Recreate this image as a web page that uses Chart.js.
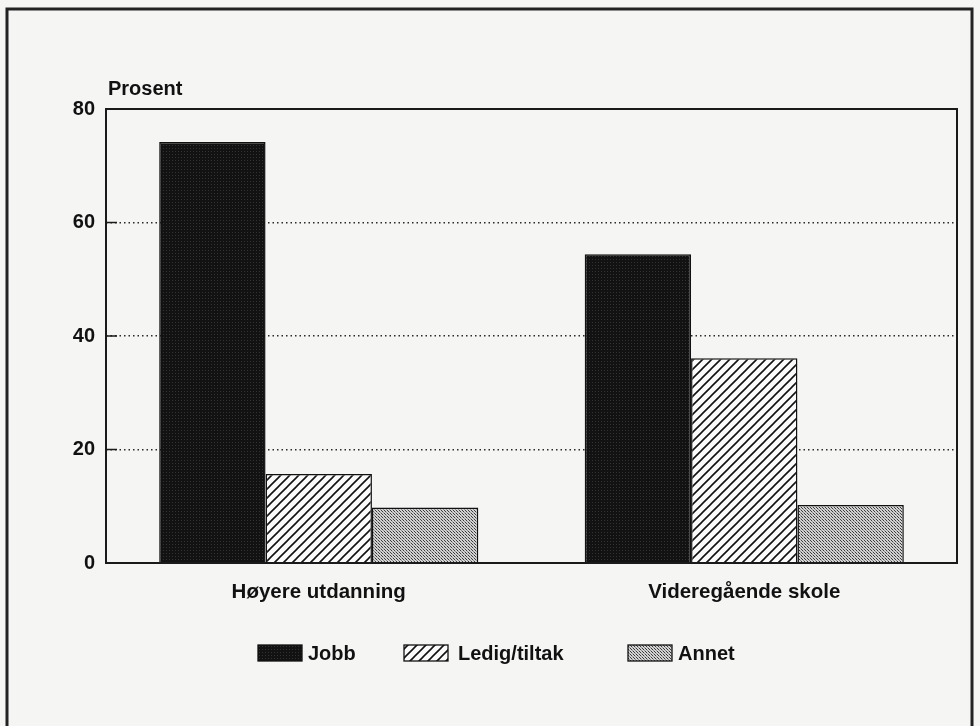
<!DOCTYPE html>
<html>
<head>
<meta charset="utf-8">
<script src="https://cdn.jsdelivr.net/npm/chart.js@4.4.0/dist/chart.umd.min.js"></script>
<style>
    html, body { margin: 0; padding: 0; background: #f5f5f4; }
    #wrap { position: relative; width: 980px; height: 726px; }
</style>
</head>
<body>
<div id="wrap"><canvas id="chart" width="980" height="726"></canvas></div>
<script>
// data
const categories = ['Høyere utdanning', 'Videregående skole'];
const jobb = [74.2, 54.4];
const ledig = [15.7, 36.1];
const annet = [9.8, 10.2];
const seriesNames = ['Jobb', 'Ledig/tiltak', 'Annet'];
const yTicks = [0, 20, 40, 60, 80];

const FONT = '"Liberation Sans", Arial, Helvetica, sans-serif';

const canvas = document.getElementById('chart');
const ctx = canvas.getContext('2d');

// little tiles used as fill patterns (scanned print look)
function makePattern(size, draw){
    const tile = document.createElement('canvas');
    tile.width = size;
    tile.height = size;
    draw(tile.getContext('2d'), size);
    return ctx.createPattern(tile, 'repeat');
}

const darkFill = makePattern(3, function(g, s){
    g.fillStyle = '#121212';
    g.fillRect(0, 0, s, s);
    g.fillStyle = '#333';
    g.fillRect(1, 1, 1, 1);
});

const hatchFill = makePattern(9, function(g, s){
    g.fillStyle = '#fbfbfb';
    g.fillRect(0, 0, s, s);
    g.strokeStyle = '#111';
    g.lineWidth = 1.6;
    g.beginPath();
    g.moveTo(0, s); g.lineTo(s, 0);
    g.moveTo(-2, 2); g.lineTo(2, -2);
    g.moveTo(s - 2, s + 2); g.lineTo(s + 2, s - 2);
    g.stroke();
});

const dotFill = makePattern(3, function(g, s){
    g.fillStyle = '#d2d2d2';
    g.fillRect(0, 0, s, s);
    g.fillStyle = '#3a3a3a';
    g.fillRect(0, 0, 1, 1);
    g.fillRect(1, 1, 1, 1);
    g.fillStyle = '#8a8a8a';
    g.fillRect(2, 2, 1, 1);
});

const fills = [darkFill, hatchFill, dotFill];

// frame, y title and legend are drawn by hand
const decorations = {
    id: 'decorations',
    beforeDraw(chart){
        const c = chart.ctx;
        c.save();
        c.strokeStyle = '#222';
        c.lineWidth = 3;
        c.strokeRect(7, 9, 965, 740);
        c.restore();
    },
    afterDatasetsDraw(chart){
        const c = chart.ctx;
        const a = chart.chartArea;
        c.save();
        c.strokeStyle = '#1a1a1a';
        c.lineWidth = 2;
        c.strokeRect(a.left, a.top, a.right - a.left, a.bottom - a.top);

        // small inward ticks on the y axis
        const y = chart.scales.y;
        c.lineWidth = 1.5;
        yTicks.slice(1, -1).forEach(function(v){
            const py = y.getPixelForValue(v);
            c.beginPath();
            c.moveTo(a.left, py);
            c.lineTo(a.left + 11, py);
            c.stroke();
        });

        c.fillStyle = '#111';
        c.font = 'bold 20px ' + FONT;
        c.textAlign = 'left';
        c.textBaseline = 'alphabetic';
        c.fillText('Prosent', 108, 95);

        // legend
        const items = [[258, 308], [404, 458], [628, 678]];
        chart.data.datasets.forEach(function(ds, i){
            const bx = items[i][0];
            c.fillStyle = ds.backgroundColor;
            c.fillRect(bx, 645, 44, 16);
            c.strokeStyle = '#111';
            c.lineWidth = 1.3;
            c.strokeRect(bx, 645, 44, 16);
            c.fillStyle = '#111';
            c.textBaseline = 'middle';
            c.fillText(ds.label, items[i][1], 654);
        });
        c.restore();
    }
};

const chart = new Chart(ctx, {
    type: 'bar',
    data: {
        labels: categories,
        datasets: [
            { label: seriesNames[0], data: jobb, backgroundColor: fills[0], borderColor: '#111', borderWidth: 1.5 },
            { label: seriesNames[1], data: ledig, backgroundColor: fills[1], borderColor: '#111', borderWidth: 1.5 },
            { label: seriesNames[2], data: annet, backgroundColor: fills[2], borderColor: '#111', borderWidth: 1.5 }
        ]
    },
    options: {
        responsive: false,
        animation: false,
        layout: {
            padding: { left: 0, top: 109, right: 23, bottom: 0 }
        },
        datasets: {
            bar: { categoryPercentage: 0.75, barPercentage: 1.0 }
        },
        plugins: {
            legend: { display: false },
            tooltip: { enabled: false }
        },
        scales: {
            x: {
                grid: { display: false },
                border: { display: false },
                ticks: {
                    color: '#111',
                    padding: 9,
                    font: { family: FONT, size: 20.5, weight: 'bold' }
                },
                afterFit(scale){ scale.height = 163; }
            },
            y: {
                min: 0,
                max: 80,
                afterBuildTicks(scale){
                    scale.ticks = yTicks.map(function(v){ return { value: v }; });
                },
                grid: {
                    drawTicks: false,
                    lineWidth: 1.5,
                    color: function(c){
                        const v = c.tick ? c.tick.value : 0;
                        return (v === 0 || v === 80) ? 'rgba(0,0,0,0)' : '#2a2a2a';
                    }
                },
                border: { display: false, dash: [1.5, 3] },
                ticks: {
                    color: '#111',
                    padding: 11,
                    font: { family: FONT, size: 20, weight: 'bold' }
                },
                afterFit(scale){ scale.width = 106; }
            }
        }
    },
    plugins: [decorations]
});
</script>
</body>
</html>
